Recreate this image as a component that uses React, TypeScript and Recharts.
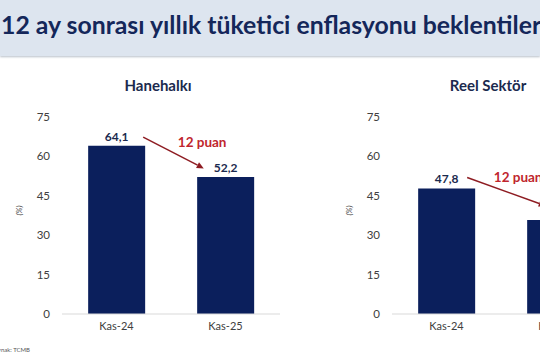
import React from "react";
import { BarChart, Bar, XAxis, YAxis, LabelList } from "recharts";

const categories = ["Kas-24", "Kas-25"];
const householdValues = [64.1, 52.2];
const realSectorValues = [47.8, 35.8];
const yTicks = [0, 15, 30, 45, 60, 75];
const changeLabel = "12 puan";

const FONT = "Lato, 'Open Sans', sans-serif";
const NAVY = "#0b1f5c";
const RED = "#c0262d";
const ARROW = "#8e1c22";

type Annot = { sx: number; sy: number; ex: number; ey: number; tx: number; ty: number };

const fmt = (v: number) => v.toFixed(1).replace(".", ",");

const makeLabel = (values: number[], a: Annot) => (props: any) => {
  const { x, y, width, height, value, index } = props;
  const cx = x + width / 2;
  const items: React.ReactNode[] = [
    <text key="v" x={cx} y={y - 5} textAnchor="middle" fontFamily={FONT} fontWeight={700} fontSize={12} fill="#1b2a4e">
      {fmt(Number(value))}
    </text>,
  ];
  if (index === 0) {
    const base = y + height;
    const ppu = height / Number(value);
    const step = width / 0.52;
    const nextTop = base - values[1] * ppu;
    const x1 = x + width + a.sx;
    const y1 = y + a.sy;
    const x2 = x + step + a.ex;
    const y2 = nextTop + a.ey;
    const ang = Math.atan2(y2 - y1, x2 - x1);
    const L = 7, W = 3.2;
    const bx = x2 - L * Math.cos(ang), by = y2 - L * Math.sin(ang);
    const p1 = `${x2},${y2}`;
    const p2 = `${bx + W * Math.sin(ang)},${by - W * Math.cos(ang)}`;
    const p3 = `${bx - W * Math.sin(ang)},${by + W * Math.cos(ang)}`;
    items.push(
      <line key="l" x1={x1} y1={y1} x2={bx} y2={by} stroke={ARROW} strokeWidth={1.5} />,
      <polygon key="p" points={`${p1} ${p2} ${p3}`} fill={ARROW} />,
      <text key="t" x={x + width + a.tx} y={y + a.ty} textAnchor="middle" dominantBaseline="central" fontFamily={FONT} fontWeight={700} fontSize={13.5} fill={RED}>
        {changeLabel}
      </text>
    );
  }
  return <g>{items}</g>;
};

const Panel = ({ values, annot, left, title, titleX }: { values: number[]; annot: Annot; left: number; title: string; titleX: number }) => {
  const data = categories.map((c, i) => ({ name: c, value: values[i] }));
  return (
    <div style={{ position: "absolute", left, top: 0, width: 280, height: 360 }}>
      <div style={{ position: "absolute", left: titleX - 80, width: 160, top: 76, textAlign: "center", fontFamily: FONT, fontWeight: 700, fontSize: 15, color: "#1b2a4e" }}>
        {title}
      </div>
      <BarChart width={280} height={360} data={data} margin={{ top: 117, right: 0, bottom: 16, left: 0 }} barCategoryGap="24%">
        <XAxis
          dataKey="name"
          axisLine={{ stroke: "#d9d9d9", strokeWidth: 1 }}
          tickLine={false}
          tick={{ fontFamily: FONT, fontSize: 11, fill: "#404040" }}
          tickMargin={2}
        />
        <YAxis
          domain={[0, 75]}
          ticks={yTicks}
          width={62}
          axisLine={false}
          tickLine={false}
          tickMargin={6}
          tick={{ fontFamily: FONT, fontSize: 11.5, fill: "#404040" }}
          label={{ value: "(%)", angle: -90, position: "insideLeft", offset: 19, style: { fontFamily: FONT, fontSize: 8, fontStyle: "italic", fill: "#404040" } }}
        />
        <Bar dataKey="value" fill={NAVY} isAnimationActive={false}>
          <LabelList dataKey="value" content={makeLabel(values, annot)} />
        </Bar>
      </BarChart>
    </div>
  );
};

export default function App() {
  return (
    <div style={{ position: "absolute", left: 0, top: 0, width: 540, height: 360, overflow: "hidden", background: "#fff" }}>
      <div style={{ position: "absolute", left: 0, top: 0, width: 540, height: 56, background: "#dde5ef", boxShadow: "0 1px 2px #b9c0c9" }} />
      <div style={{ position: "absolute", left: 1, top: 10, whiteSpace: "nowrap", fontFamily: FONT, fontWeight: 700, fontSize: 24.8, color: "#14275a" }}>
        12 ay sonrası yıllık tüketici enflasyonu beklentileri
      </div>
      <Panel values={householdValues} annot={{ sx: -2, sy: -8.5, ex: 6, ey: -8.5, tx: 57, ty: -3.5 }} left={0} title="Hanehalkı" titleX={158} />
      <Panel values={realSectorValues} annot={{ sx: -8, sy: -11, ex: 18, ey: -14, tx: 43, ty: -11 }} left={330} title="Reel Sektör" titleX={158} />
      <div style={{ position: "absolute", left: -9, top: 346, fontFamily: FONT, fontSize: 6, color: "#555", whiteSpace: "nowrap" }}>Kaynak: TCMB</div>
    </div>
  );
}
